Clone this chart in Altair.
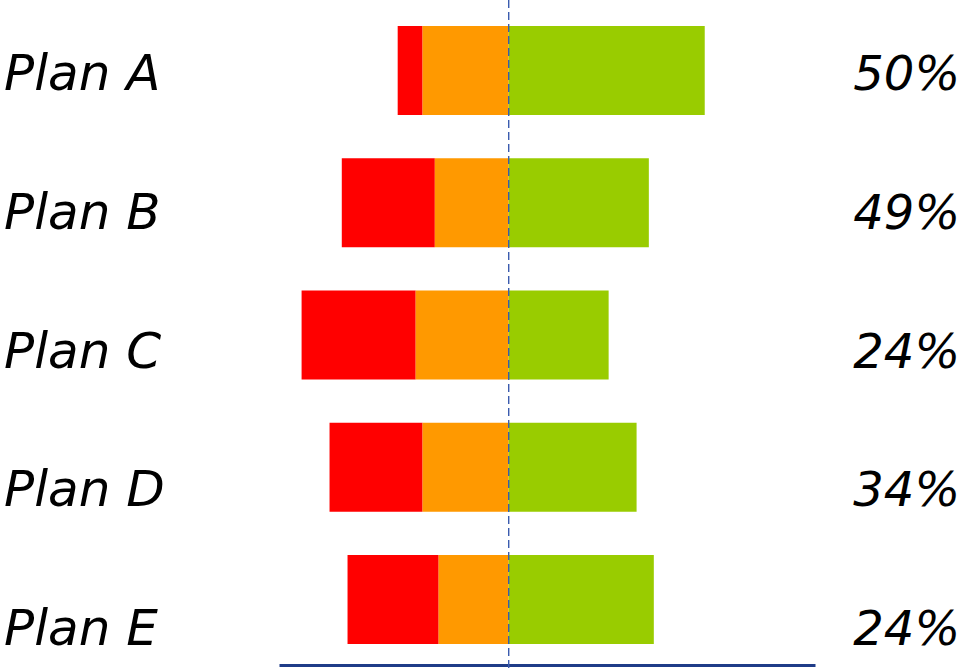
import altair as alt
import pandas as pd

plans = ["Plan A", "Plan B", "Plan C", "Plan D", "Plan E"]
red_vals = [6.5, 24.3, 29.8, 24.3, 23.8]
orange_vals = [22.5, 19.3, 24.3, 22.5, 18.3]
green_vals = [51.2, 36.6, 26.1, 33.4, 37.9]
pct_labels = ["50%", "49%", "24%", "34%", "24%"]

cats = ["red", "orange", "green"]
colors = ["#FF0000", "#FF9900", "#99CC00"]

rows = []
for p, r, o, g in zip(plans, red_vals, orange_vals, green_vals):
    rows.append({"plan": p, "cat": "red", "start": -(r + o), "end": -o})
    rows.append({"plan": p, "cat": "orange", "start": -o, "end": 0})
    rows.append({"plan": p, "cat": "green", "start": 0, "end": g})
bars_df = pd.DataFrame(rows)
labels_df = pd.DataFrame({"plan": plans, "pct": pct_labels})
zero_df = pd.DataFrame({"z": [0]})

xscale = alt.Scale(domain=[-60, 80], range=[279, 815], nice=False, zero=False)

bars = alt.Chart(bars_df).mark_bar().encode(
    x=alt.X("start:Q", scale=xscale,
            axis=alt.Axis(domain=True, domainColor="#1F3C88", domainWidth=3,
                          ticks=False, labels=False, grid=False, title=None)),
    x2="end:Q",
    y=alt.Y("plan:N", sort=plans,
            scale=alt.Scale(range=[26, 644], paddingInner=0.326, paddingOuter=0),
            axis=None),
    color=alt.Color("cat:N", scale=alt.Scale(domain=cats, range=colors), legend=None),
)

yl = alt.Y("plan:N", sort=plans,
           scale=alt.Scale(type="point", range=[90, 645], padding=0), axis=None)

left_text = alt.Chart(labels_df).mark_text(
    align="left", baseline="alphabetic", font="DejaVu Sans", fontStyle="italic",
    fontSize=50, color="#000000"
).encode(x=alt.value(4), y=yl, text="plan:N")

right_text = alt.Chart(labels_df).mark_text(
    align="right", baseline="alphabetic", font="DejaVu Sans", fontStyle="italic",
    fontSize=48, color="#000000"
).encode(x=alt.value(960), y=yl, text="pct:N")

center = alt.Chart(zero_df).mark_rule(
    color="#3A5BAF", strokeWidth=1.4, strokeDash=[8, 4]
).encode(x=alt.X("z:Q", scale=xscale), y=alt.value(0), y2=alt.value(668))

chart = alt.layer(bars, center, left_text, right_text).resolve_scale(
    y="independent"
).properties(
    width=971, height=665,
    autosize=alt.AutoSizeParams(type="none"),
    padding={"left": 0, "top": 0, "right": 0, "bottom": 3},
).configure_view(stroke=None)

chart.save("out.html", embed_options={"renderer": "svg", "actions": False})
